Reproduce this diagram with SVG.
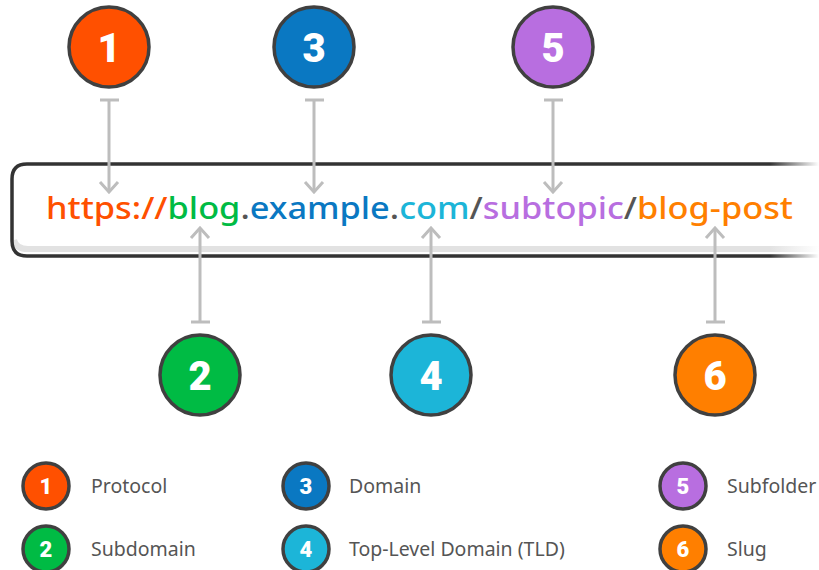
<svg xmlns="http://www.w3.org/2000/svg" width="819" height="570" viewBox="0 0 819 570">
<defs>
<linearGradient id="fade" gradientUnits="userSpaceOnUse" x1="0" y1="0" x2="819" y2="0">
<stop offset="0.94" stop-color="#333" stop-opacity="1"/>
<stop offset="1" stop-color="#333" stop-opacity="0"/>
</linearGradient>
<linearGradient id="fadeS" gradientUnits="userSpaceOnUse" x1="0" y1="0" x2="819" y2="0">
<stop offset="0.94" stop-color="#e2e2e2" stop-opacity="1"/>
<stop offset="1" stop-color="#e2e2e2" stop-opacity="0"/>
</linearGradient>
<marker id="arr" viewBox="0 0 14 22" refX="12" refY="11" markerWidth="14" markerHeight="22" markerUnits="userSpaceOnUse" orient="auto">
<path d="M2,2 L12,11 L2,20" fill="none" stroke="#bdbdbd" stroke-width="3"/>
</marker>
</defs>
<style>
.c{stroke:#404040;stroke-width:3.5}
.n{font-family:"Roboto","DejaVu Sans",sans-serif;font-weight:900;fill:#fff;text-anchor:middle}
.big{font-size:40px}
.sm{font-size:22px}
.lbl{font-family:"Noto Sans","Open Sans",sans-serif;font-size:19.5px;fill:#555}
.ln{stroke:#bdbdbd;stroke-width:3;fill:none}
.url{font-family:"Noto Sans","Open Sans",sans-serif;font-size:31px;font-weight:500}
</style>
<rect width="819" height="570" fill="#fff"/>
<g id="urlbox">
<path d="M830,249 L28,249 Q16,249 14,240" fill="none" stroke="url(#fadeS)" stroke-width="6"/>
<path d="M830,164 L27,164 Q12,164 12,179 L12,241 Q12,256 27,256 L830,256" fill="none" stroke="url(#fade)" stroke-width="3.5"/>
<text class="url" x="46" y="219" textLength="747" lengthAdjust="spacingAndGlyphs"><tspan fill="#ff5000">https://</tspan><tspan fill="#00bb44">blog</tspan><tspan fill="#555">.</tspan><tspan fill="#0a78c2">example</tspan><tspan fill="#555">.</tspan><tspan fill="#1cb5d8">com</tspan><tspan fill="#555">/</tspan><tspan fill="#b86ee0">subtopic</tspan><tspan fill="#555">/</tspan><tspan fill="#ff7f00">blog-post</tspan></text>
</g>
<g id="connectors">
<path class="ln" d="M100,100 H119 M109,100 V192" marker-end="url(#arr)"/>
<path class="ln" d="M305,100 H324 M314,100 V192" marker-end="url(#arr)"/>
<path class="ln" d="M544,100 H563 M553,100 V192" marker-end="url(#arr)"/>
<path class="ln" d="M191,322 H210 M200,322 V228" marker-end="url(#arr)"/>
<path class="ln" d="M422,322 H441 M431,322 V228" marker-end="url(#arr)"/>
<path class="ln" d="M706,322 H725 M715,322 V228" marker-end="url(#arr)"/>
</g>
<g id="n1"><circle class="c" cx="109" cy="47" r="40" fill="#ff5000"/><text class="n big" x="109" y="62">1</text></g>
<g id="n3"><circle class="c" cx="314" cy="47" r="40" fill="#0a78c2"/><text class="n big" x="314" y="62">3</text></g>
<g id="n5"><circle class="c" cx="553" cy="47" r="40" fill="#b86ee0"/><text class="n big" x="553" y="62">5</text></g>
<g id="n2"><circle class="c" cx="200" cy="375" r="40" fill="#00bb44"/><text class="n big" x="200" y="390">2</text></g>
<g id="n4"><circle class="c" cx="431" cy="375" r="40" fill="#1cb5d8"/><text class="n big" x="431" y="390">4</text></g>
<g id="n6"><circle class="c" cx="715" cy="375" r="40" fill="#ff7f00"/><text class="n big" x="715" y="390">6</text></g>
<g id="legend">
<g id="l1"><circle class="c" cx="46" cy="486" r="23" fill="#ff5000"/><text class="n sm" x="46" y="494">1</text><text class="lbl" x="91" y="493">Protocol</text></g>
<g id="l2"><circle class="c" cx="46" cy="549" r="23" fill="#00bb44"/><text class="n sm" x="46" y="557">2</text><text class="lbl" x="91" y="556">Subdomain</text></g>
<g id="l3"><circle class="c" cx="306" cy="486" r="23" fill="#0a78c2"/><text class="n sm" x="306" y="494">3</text><text class="lbl" x="349" y="493">Domain</text></g>
<g id="l4"><circle class="c" cx="306" cy="549" r="23" fill="#1cb5d8"/><text class="n sm" x="306" y="557">4</text><text class="lbl" x="349" y="556">Top-Level Domain (TLD)</text></g>
<g id="l5"><circle class="c" cx="683" cy="486" r="23" fill="#b86ee0"/><text class="n sm" x="683" y="494">5</text><text class="lbl" x="727" y="493">Subfolder</text></g>
<g id="l6"><circle class="c" cx="683" cy="549" r="23" fill="#ff7f00"/><text class="n sm" x="683" y="557">6</text><text class="lbl" x="727" y="556">Slug</text></g>
</g>
</svg>
